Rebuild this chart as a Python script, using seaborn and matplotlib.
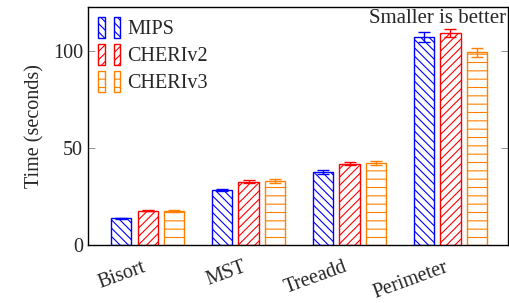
import seaborn as sns
import pandas as pd
import matplotlib.pyplot as plt
import matplotlib.transforms as mtransforms
from matplotlib.patches import Rectangle
from matplotlib.legend_handler import HandlerTuple

# data
benchmarks = ['Bisort', 'MST', 'Treeadd', 'Perimeter']
systems = ['MIPS', 'CHERIv2', 'CHERIv3']
mips = [13.9, 28.4, 37.8, 107.0]
cheriv2 = [17.7, 32.6, 41.9, 109.1]
cheriv3 = [17.5, 33.0, 42.1, 99.1]
mips_err = [0.3, 0.5, 1.0, 2.6]
cheriv2_err = [0.3, 0.9, 0.7, 2.0]
cheriv3_err = [0.4, 1.0, 1.0, 2.2]

colors = ['#0000ff', '#ff0000', '#ff8000']
hatches = ['\\\\\\\\', '////', '--']

df = pd.DataFrame({
    'benchmark': benchmarks * 3,
    'system': sum([[s] * len(benchmarks) for s in systems], []),
    'time': mips + cheriv2 + cheriv3,
    'err': mips_err + cheriv2_err + cheriv3_err,
})

sns.set_theme(style='ticks')
plt.rcParams['font.family'] = ['Liberation Serif', 'DejaVu Serif']
plt.rcParams['hatch.linewidth'] = 0.8

fig = plt.figure(figsize=(5.09, 3.03), dpi=100)
ax = fig.add_axes([0.173, 0.191, 0.825, 0.786])

sns.barplot(data=df, x='benchmark', y='time', hue='system', order=benchmarks,
            hue_order=systems, errorbar=None, width=0.79, gap=0.24,
            palette=['white'] * 3, ax=ax, legend=False)

for cont, col, h, s in zip(ax.containers, colors, hatches, systems):
    errs = df[df['system'] == s]['err'].tolist()
    xs, ys = [], []
    for p in cont.patches:
        p.set_facecolor('white')
        p.set_edgecolor(col)
        p.set_hatch(h)
        p.set_linewidth(1.0)
        xs.append(p.get_x() + p.get_width() / 2)
        ys.append(p.get_height())
    ax.errorbar(xs, ys, yerr=errs, fmt='none', ecolor=col, elinewidth=1.0,
                capsize=4, capthick=1.0, zorder=5)

ax.set_xlim(-0.59, 3.57)
ax.set_ylim(0, 122.5)
ax.set_yticks([0, 50, 100])
ax.set_xlabel('')
ax.set_ylabel('Time (seconds)', fontsize=14.5, labelpad=6)
ax.tick_params(axis='y', direction='in', right=True, length=5, width=0.6,
               color='gray', labelsize=14.5)
ax.tick_params(axis='x', length=0, labelsize=14.5, pad=9)
shift = mtransforms.ScaledTranslation(-6 / 100, 0, fig.dpi_scale_trans)
for lab in ax.get_xticklabels():
    lab.set_rotation(20)
    lab.set_ha('right')
    lab.set_rotation_mode('anchor')
    lab.set_transform(lab.get_transform() + shift)
for sp in ax.spines.values():
    sp.set_linewidth(1.0)
    sp.set_color('black')

ax.text(0.995, 0.99, 'Smaller is better', transform=ax.transAxes,
        ha='right', va='top', fontsize=15)

handles = []
for col, h in zip(colors, hatches):
    pair = tuple(Rectangle((0, 0), 1, 1, facecolor='white', edgecolor=col,
                           hatch=h, linewidth=1.0) for _ in range(2))
    handles.append(pair)
ax.legend(handles, systems, handler_map={tuple: HandlerTuple(ndivide=None, pad=0.45)},
          loc='upper left', bbox_to_anchor=(0.0, 1.0), frameon=False,
          fontsize=14.5, handlelength=1.1, handleheight=1.2, handletextpad=0.35,
          labelspacing=0.25, borderaxespad=0.1)

fig.savefig('out.png', dpi=100)
